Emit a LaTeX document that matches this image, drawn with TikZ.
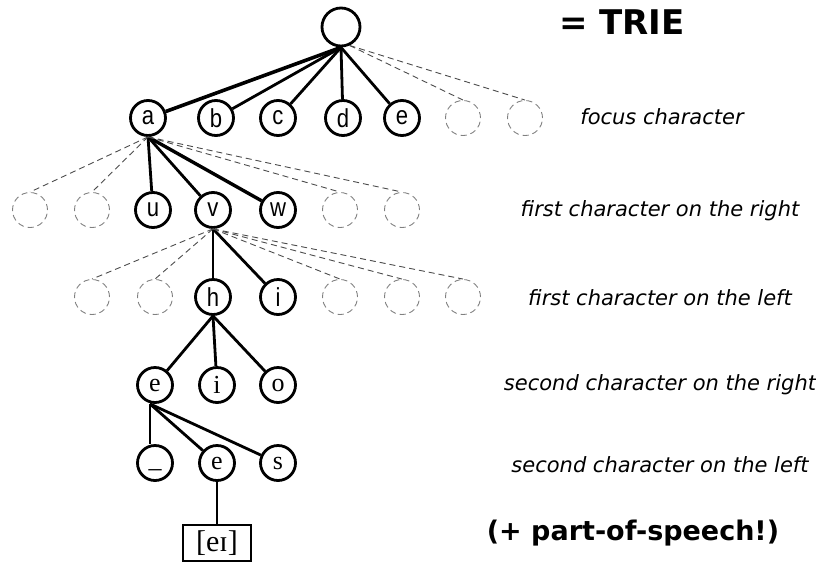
\documentclass[tikz,border=0pt]{standalone}
\usepackage{fontspec}
\setmainfont{DejaVu Sans}
\newfontfamily\nodesans[FakeStretch=0.85]{Liberation Sans}
\newfontfamily\nodeserif{Liberation Serif}
\begin{document}
\begin{tikzpicture}[x=1pt,y=-1pt,
  nd/.style={circle,draw,line width=2.8pt,minimum size=35pt,inner sep=0pt,font=\nodesans\fontsize{26}{26}\selectfont},
  nds/.style={nd,font=\nodeserif\fontsize{26}{26}\selectfont},
  ghost/.style={circle,draw=gray,dash pattern=on 6pt off 4pt,line width=0.9pt,minimum size=35pt,inner sep=0pt},
  ed/.style={line width=2.8pt},
  ged/.style={draw=gray!60!black,dash pattern=on 6pt off 4pt,line width=0.9pt},
  lab/.style={font=\itshape\fontsize{21}{21}\selectfont,anchor=center},
  big/.style={font=\bfseries\fontsize{34}{34}\selectfont}]
\useasboundingbox (0,0) rectangle (816,568);
% root
\node[nd,minimum size=38pt] (r) at (341,27) {};
% level 1
\node[nd] (a) at (148,118) {a};
\node[nd] (b) at (216,118) {b};
\node[nd] (c) at (278,118) {c};
\node[nd] (d) at (343,118) {d};
\node[nd] (e1) at (402,118) {e};
\node[ghost] (g11) at (463,118) {};
\node[ghost] (g12) at (525,118) {};
% level 2
\node[ghost] (g21) at (30,210) {};
\node[ghost] (g22) at (92,210) {};
\node[nd] (u) at (153,210) {u};
\node[nd] (v) at (213,210) {v};
\node[nd] (w) at (278,210) {w};
\node[ghost] (g23) at (340,210) {};
\node[ghost] (g24) at (402,210) {};
% level 3
\node[ghost] (g31) at (92,297) {};
\node[ghost] (g32) at (155,297) {};
\node[nd] (h) at (213,297) {h};
\node[nd] (i3) at (278,297) {i};
\node[ghost] (g33) at (340,297) {};
\node[ghost] (g34) at (402,297) {};
\node[ghost] (g35) at (463,297) {};
% level 4
\node[nds] (e4) at (155,385) {e};
\node[nds] (i4) at (217,385) {i};
\node[nds] (o4) at (278,385) {o};
% level 5
\node[nds] (us) at (155,463) {\vphantom{e}\_};
\node[nds] (e5) at (217,463) {e};
\node[nds] (s5) at (278,463) {s};
% box
\node[draw,line width=2.6pt,minimum width=68pt,minimum height=36pt,inner sep=0pt,font=\nodeserif\fontsize{30}{30}\selectfont] (box) at (217,543) {[eɪ]};
% edges root
\coordinate (rs) at (r.south);
\coordinate (rd) at (r.-65);
\draw[ed,line width=3.6pt] (rs) -- (a);
\foreach \n in {b,c,d,e1} \draw[ed] (rs) -- (\n);
\foreach \n in {g11,g12} \draw[ged] (rd) -- (\n.north);
% edges a
\coordinate (as) at (a.south);
\foreach \n in {u,v} \draw[ed] (as) -- (\n);
\draw[ed,line width=3.4pt] (as) -- (w);
\foreach \n in {g21,g22,g23,g24} \draw[ged] (as) -- (\n.north);
% edges v
\coordinate (vs) at (v.south);
\foreach \n in {h,i3} \draw[ed] (vs) -- (\n);
\foreach \n in {g31,g32,g33,g34,g35} \draw[ged] (vs) -- (\n.north);
% edges h
\coordinate (hs) at (h.south);
\foreach \n in {e4,i4,o4} \draw[ed] (hs) -- (\n);
% edges e4
\coordinate (es) at ([xshift=-5pt]e4.south);
\draw[ed] (es) -- (us.north -| es);
\foreach \n in {e5,s5} \draw[ed] (es) -- (\n);
\draw[ed] (e5) -- (box);
% labels
\node[big] (title) at (622,22) {= TRIE};
\node[lab] (l1) at (662,117) {focus character};
\node[lab] (l2) at (660,211) {first character on the right};
\node[lab] (l3) at (660,298) {first character on the left};
\node[lab] (l4) at (660,385) {second character on the right};
\node[lab] (l5) at (660,465) {second character on the left};
\node[big,font=\bfseries\fontsize{27}{27}\selectfont] (pos) at (633,533) {(+ part-of-speech!)};
\end{tikzpicture}
\end{document}
